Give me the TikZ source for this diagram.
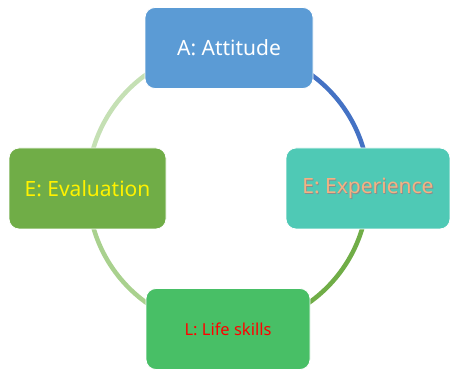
\documentclass[tikz,border=0pt]{standalone}
\usepackage{fontspec}
\setmainfont{Noto Sans}
\usetikzlibrary{backgrounds}

\definecolor{attblue}{HTML}{5B9BD5}
\definecolor{expteal}{HTML}{4FC9B5}
\definecolor{evalgreen}{HTML}{70AD47}
\definecolor{lifegreen}{HTML}{48BF66}
\definecolor{exporange}{HTML}{F4B183}
\definecolor{arcblue}{HTML}{4472C4}
\definecolor{arcgreen}{HTML}{70AD47}
\definecolor{arclight}{HTML}{A9D18E}
\definecolor{arcpale}{HTML}{C5E0B4}

\newcommand{\shtext}[1]{\rlap{\kern0.8pt\raisebox{-0.8pt}{\color{black!45}#1}}#1}

\tikzset{
  stagebox/.style={rounded corners=10pt, draw=white, line width=0.8pt,
    minimum width=164pt, minimum height=81pt, inner sep=0pt},
  cyclearc/.style={line width=4.5pt}
}

\begin{document}
\begin{tikzpicture}[x=1pt, y=1pt]
\useasboundingbox (0,0) rectangle (450,372);

\node[stagebox, fill=attblue, minimum width=168pt, text=white, font=\fontsize{21}{24}\selectfont] (att) at (229,324) {A: Attitude};
\node[stagebox, fill=expteal, text=exporange, font=\fontsize{21}{24}\selectfont] (exp) at (368,183.5) {\shtext{E: Experience}};
\node[stagebox, fill=lifegreen, text=red, font=\fontsize{16.5}{19}\selectfont] (life) at (228,43) {L: Life skills};
\node[stagebox, fill=evalgreen, minimum width=157pt, text=yellow, font=\fontsize{21}{24}\selectfont] (eval) at (87.5,183.5) {E: Evaluation};

% arcs of the cycle, behind the boxes
\begin{scope}[on background layer]
\draw[cyclearc, arcblue] (att.center) arc[start angle=90, end angle=0, radius=140];
\draw[cyclearc, arcgreen] (exp.center) arc[start angle=0, end angle=-90, radius=140];
\draw[cyclearc, arclight] (life.center) arc[start angle=270, end angle=180, radius=140];
\draw[cyclearc, arcpale] (eval.center) arc[start angle=180, end angle=90, radius=140];
\end{scope}
\end{tikzpicture}
\end{document}
